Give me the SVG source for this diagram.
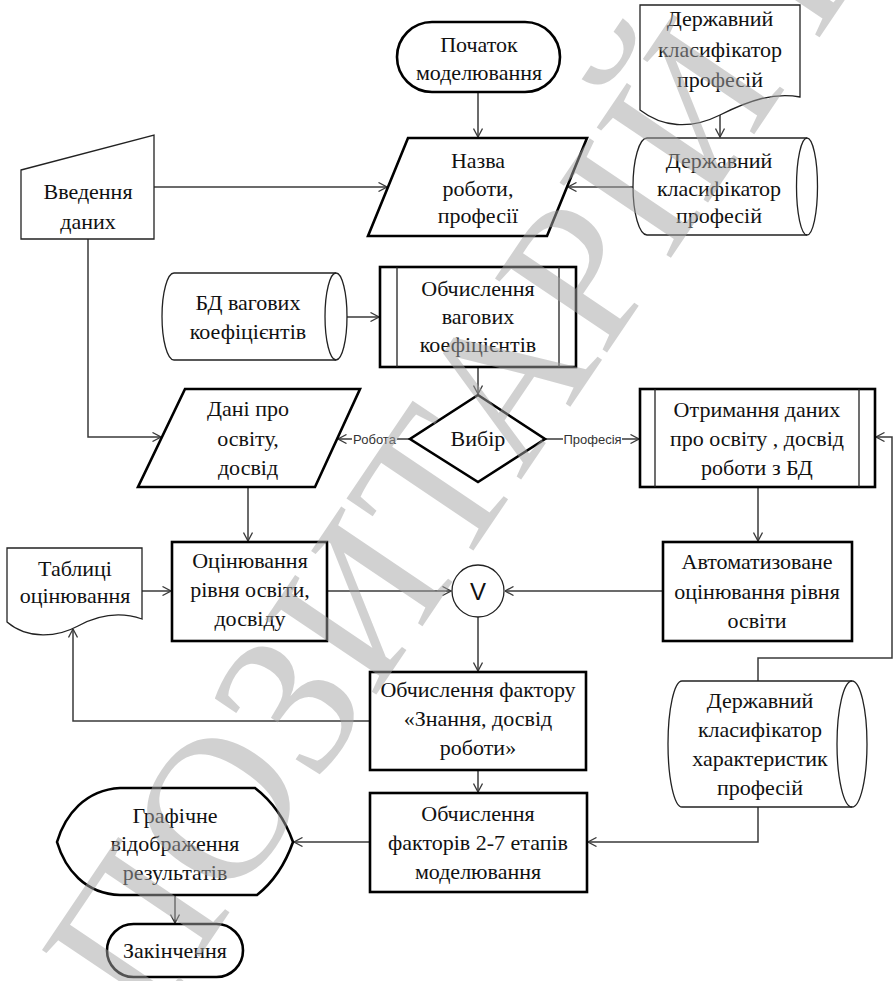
<svg xmlns="http://www.w3.org/2000/svg" width="895" height="981" viewBox="0 0 895 981">
<style>
.t{font-family:"Liberation Serif","Times New Roman",serif;font-size:22px;fill:#111;text-anchor:middle}
.thick{fill:#fff;stroke:#000;stroke-width:2.6}
.thin{fill:#fff;stroke:#222;stroke-width:1.3}
.ln{fill:none;stroke:#222;stroke-width:1.3}
.c{fill:none;stroke:#3a3a3a;stroke-width:1.5}
.lbl{font-family:"Liberation Sans",Arial,sans-serif;font-size:13px;fill:#333;text-anchor:middle}
.wm{font-family:"Liberation Serif","Times New Roman",serif;font-size:205px;fill:#a4a4a4;opacity:0.5}
</style>
<defs>
<marker id="a" viewBox="0 0 10 10" refX="9.5" refY="5" markerWidth="10" markerHeight="10" markerUnits="userSpaceOnUse" orient="auto">
<path d="M1,0.5 L9.5,5 L1,9.5" fill="none" stroke="#3a3a3a" stroke-width="1.3"/>
</marker>
</defs>
<rect width="895" height="981" fill="#fff"/>
<g id="connectors">
<path class="c" d="M478,92 V137" marker-end="url(#a)"/>
<path class="c" d="M154,187 H387" marker-end="url(#a)"/>
<path class="c" d="M633,187 H568" marker-end="url(#a)"/>
<path class="c" d="M720,115 V137" marker-end="url(#a)"/>
<path class="c" d="M88,239 V437 H161" marker-end="url(#a)"/>
<path class="c" d="M337,317 H379" marker-end="url(#a)"/>
<path class="c" d="M478,367 V394" marker-end="url(#a)"/>
<path class="c" d="M410,439 H338" marker-end="url(#a)"/>
<path class="c" d="M545,439 H639" marker-end="url(#a)"/>
<path class="c" d="M248,487 V541" marker-end="url(#a)"/>
<path class="c" d="M758,487 V541" marker-end="url(#a)"/>
<path class="c" d="M142,591 H171" marker-end="url(#a)"/>
<path class="c" d="M327,591 H451" marker-end="url(#a)"/>
<path class="c" d="M663,591 H505" marker-end="url(#a)"/>
<path class="c" d="M478,617 V671" marker-end="url(#a)"/>
<path class="c" d="M370,721 H73 V629" marker-end="url(#a)"/>
<path class="c" d="M758,681 V658 H892 V437 H876" marker-end="url(#a)"/>
<path class="c" d="M478,770 V792" marker-end="url(#a)"/>
<path class="c" d="M758,807 V842 H588" marker-end="url(#a)"/>
<path class="c" d="M370,842 H294" marker-end="url(#a)"/>
<path class="c" d="M175,895 V923" marker-end="url(#a)"/>
<rect x="352" y="431" width="45" height="16" fill="#fff"/>
<text class="lbl" x="374.5" y="443.5">Робота</text>
<rect x="563" y="431" width="59" height="16" fill="#fff"/>
<text class="lbl" x="592.5" y="443.5">Професія</text>
</g>
<g id="start"><rect class="thick" x="397" y="22" width="163" height="70" rx="35"/><text class="t" x="479" y="52">Початок</text><text class="t" x="479" y="80">моделювання</text></g>
<g id="input"><polygon class="thin" points="21,170 154,135 154,239 21,239"/><text class="t" x="88" y="199">Введення</text><text class="t" x="88" y="229">даних</text></g>
<g id="name"><polygon class="thick" points="408,138 587,138 547,236 368,236"/><text class="t" x="478" y="168">Назва</text><text class="t" x="478" y="196">роботи,</text><text class="t" x="478" y="223">професії</text></g>
<g id="classifier-doc"><path class="thin" d="M640,5 H800 V97 C775,92 750,100 720,115 C690,130 662,127 640,110 Z"/><text class="t" x="720" y="26">Державний</text><text class="t" x="720" y="57">класифікатор</text><text class="t" x="720" y="87">професій</text></g>
<g id="classifier-db"><path class="thin" d="M647,138 H807 A10.5,48.5 0 0 1 807,235 H647 A14,48.5 0 0 1 647,138 Z"/><path class="ln" d="M807,138 A10.5,48.5 0 0 0 807,235"/><text class="t" x="719" y="168">Державний</text><text class="t" x="719" y="196">класифікатор</text><text class="t" x="719" y="223">професій</text></g>
<g id="weights-db"><path class="thin" d="M174,273 H336 A11,43.5 0 0 1 336,360 H174 A12,43.5 0 0 1 174,273 Z"/><path class="ln" d="M336,273 A11,43.5 0 0 0 336,360"/><text class="t" x="248" y="310">БД вагових</text><text class="t" x="248" y="339">коефіцієнтів</text></g>
<g id="weights"><rect class="thick" x="380" y="267" width="196" height="100"/><path class="ln" stroke-width="2" d="M397,267 V367 M559,267 V367"/><text class="t" x="478" y="296">Обчислення</text><text class="t" x="478" y="324">вагових</text><text class="t" x="478" y="352">коефіцієнтів</text></g>
<g id="choice"><polygon class="thick" points="478,395 545,439 478,482 410,439"/><text class="t" x="478" y="446">Вибір</text></g>
<g id="edu-data"><polygon class="thick" points="185,389 360,389 315,487 138,487"/><text class="t" x="248" y="416">Дані про</text><text class="t" x="248" y="446">освіту,</text><text class="t" x="248" y="475">досвід</text></g>
<g id="get-data"><rect class="thick" x="640" y="389" width="235" height="98"/><path class="ln" stroke-width="2" d="M655,389 V487 M859,389 V487"/><text class="t" x="757" y="417">Отримання даних</text><text class="t" x="757" y="446">про освіту , досвід</text><text class="t" x="757" y="475">роботи з БД</text></g>
<g id="tables"><path class="thin" d="M7,548 H142 V619 C122,612 100,614 78,626 C58,637 28,640 7,622 Z"/><text class="t" x="75" y="576">Таблиці</text><text class="t" x="75" y="603">оцінювання</text></g>
<g id="eval"><rect class="thick" x="172" y="542" width="155" height="99"/><text class="t" x="250" y="568">Оцінювання</text><text class="t" x="250" y="597">рівня освіти,</text><text class="t" x="250" y="626">досвіду</text></g>
<g id="or"><circle class="thin" cx="478" cy="591" r="26"/><text x="478" y="600" font-family="Liberation Sans, Arial, sans-serif" font-size="24" fill="#111" text-anchor="middle">V</text></g>
<g id="auto-eval"><rect class="thick" x="663" y="542" width="189" height="99"/><text class="t" x="757" y="569">Автоматизоване</text><text class="t" x="757" y="599">оцінювання рівня</text><text class="t" x="757" y="628">освіти</text></g>
<g id="factor1"><rect class="thick" x="370" y="672" width="216" height="98"/><text class="t" x="478" y="697">Обчислення фактору</text><text class="t" x="478" y="726">«Знання, досвід</text><text class="t" x="478" y="755">роботи»</text></g>
<g id="char-db"><path class="thin" d="M682,681 H852 A15,63 0 0 1 852,807 H682 A14,63 0 0 1 682,681 Z"/><path class="ln" d="M852,681 A15,63 0 0 0 852,807"/><text class="t" x="760" y="708">Державний</text><text class="t" x="760" y="737">класифікатор</text><text class="t" x="760" y="766">характеристик</text><text class="t" x="760" y="795">професій</text></g>
<g id="factors"><rect class="thick" x="370" y="793" width="217" height="99"/><text class="t" x="478" y="821">Обчислення</text><text class="t" x="478" y="850">факторів 2-7 етапів</text><text class="t" x="478" y="879">моделювання</text></g>
<g id="display"><path class="thick" d="M120,788 H255 Q281,808 293,842 Q281,876 257,895 H120 C85,894 65,869 57,842 C65,815 85,790 120,788 Z"/><text class="t" x="175" y="823">Графічне</text><text class="t" x="175" y="851">відображення</text><text class="t" x="175" y="880">результатів</text></g>
<g id="end"><rect class="thick" x="107" y="924" width="136" height="53" rx="26.5"/><text class="t" x="175" y="958">Закінчення</text></g>
<g id="watermark"><text class="wm" x="150" y="1030" transform="rotate(-56 150 1030)">ПОЗИТАРІЙ НА</text></g>
</svg>
